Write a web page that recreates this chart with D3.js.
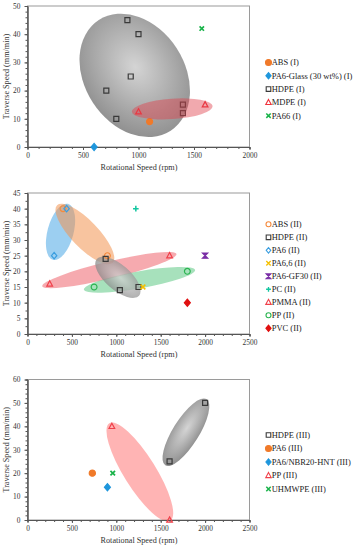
<!DOCTYPE html>
<html>
<head>
<meta charset="utf-8">
<script src="https://cdn.jsdelivr.net/npm/d3@7"></script>
<style>
  body { margin: 0; background: #fff; }
</style>
</head>
<body>
<script>
// Data (rpm, mm/min)
// Panel (I)
var absI      = [[1100, 9]];
var pa6GlassI = [[600, 0]];
var hdpeI     = [[900, 45], [1000, 40], [930, 25], [710, 20], [800, 10], [1400, 15], [1400, 12]];
var mdpeI     = [[1000, 12.5], [1600, 15]];
var pa66I     = [[1570, 42]];

// Panel (II)
var absII     = [[400, 40], [900, 25]];
var hdpeII    = [[880, 24], [1040, 14], [1250, 15]];
var pa6II     = [[440, 40], [300, 25]];
var pa66II    = [[1300, 15]];
var pa6gf30II = [[2000, 25]];
var pcII      = [[1220, 40]];
var pmmaII    = [[250, 16], [1600, 25]];
var ppII      = [[750, 15], [1800, 20]];
var pvcII     = [[1800, 10]];

// Panel (III)
var hdpeIII   = [[1600, 25], [2000, 50]];
var pa6III    = [[730, 20]];
var pa6nbrIII = [[900, 14]];
var ppIII     = [[950, 40], [1600, 0]];
var uhmwIII   = [[960, 20]];

// Grouping ellipses: centre in data units
var clustersI   = [[966, 25.4], [1304, 13.5]];
var clustersII  = [[372, 32.6], [646, 31.9], [922, 20.4], [1261, 17.3], [1018, 18.1]];
var clustersIII = [[1265, 20.5], [1784, 37.5]];

var W = 356, H = 550;
var plotLeft = 27.5, plotRight = 249.5;
var font = "'Liberation Serif', 'Times New Roman', serif";

var svg = d3.select("body").append("svg")
    .attr("width", W).attr("height", H)
    .style("font-family", font);

var grad = svg.append("defs").append("radialGradient")
    .attr("id", "grayGrad").attr("cx", "55%").attr("cy", "45%").attr("r", "60%");
grad.append("stop").attr("offset", "0%").attr("stop-color", "#d2d2d2");
grad.append("stop").attr("offset", "100%").attr("stop-color", "#878787");

//Marker shapes, s = half size
function shape(type, s)
{
    switch (type) {
    case "square":   return "M" + (-s) + "," + (-s) + "h" + 2*s + "v" + 2*s + "h" + (-2*s) + "Z";
    case "triangle": return "M0," + (-s*1.15) + "L" + s*1.05 + "," + s*0.8 + "L" + (-s*1.05) + "," + s*0.8 + "Z";
    case "diamond":  return "M0," + (-s*1.2) + "L" + s + ",0L0," + s*1.2 + "L" + (-s) + ",0Z";
    case "x":        return "M" + (-s) + "," + (-s) + "L" + s + "," + s + "M" + s + "," + (-s) + "L" + (-s) + "," + s;
    case "plus":     return "M" + (-s) + ",0H" + s + "M0," + (-s) + "V" + s;
    case "hourglass":return "M" + (-s) + "," + (-s) + "H" + s + "L" + (-s) + "," + s + "H" + s + "Z";
    default:         return "M" + s + ",0A" + s + "," + s + " 0 1,1 " + (-s) + ",0A" + s + "," + s + " 0 1,1 " + s + ",0Z";
    }
}

function marker(g, type, filled, color, s, sw)
{
    return g.append("path")
        .attr("d", shape(type, s))
        .attr("fill", filled ? color : "none")
        .attr("stroke", color)
        .attr("stroke-width", sw)
        .attr("stroke-linejoin", "miter");
}

var panels = [
  { top: 6, bottom: 147, xMax: 2000, yMax: 50, yStep: 10, yMinor: 2,
    legendY: 62.5, legendStep: 13.3,
    series: [
      { name: "ABS (I)", data: absI, type: "circle", filled: true, color: "#f07a2a", s: 3, ls: 3 },
      { name: "PA6-Glass (30 wt%) (I)", data: pa6GlassI, type: "diamond", filled: true, color: "#1e96dc", s: 3, ls: 2.6 },
      { name: "HDPE (I)", data: hdpeI, type: "square", filled: false, color: "#3a3a3a", s: 2.5, ls: 2.3 },
      { name: "MDPE (I)", data: mdpeI, type: "triangle", filled: false, color: "#f0323c", s: 2.7, ls: 2.6 },
      { name: "PA66 (I)", data: pa66I, type: "x", filled: false, color: "#19b34a", s: 2.2, ls: 2.2, sw: 1.7 }
    ],
    ellipses: [
      { c: clustersI[0], rx: 50, ry: 66, rot: -33, fill: "url(#grayGrad)", op: 0.95, over: false },
      { c: clustersI[1], rx: 40.5, ry: 10.2, rot: -4, fill: "#e0404c", op: 0.45, over: true }
    ] },
  { top: 193, bottom: 334, xMax: 2500, yMax: 45, yStep: 5, yMinor: 2.5,
    legendY: 224.3, legendStep: 13,
    series: [
      { name: "ABS (II)", data: absII, type: "circle", filled: false, color: "#f58a3c", s: 2.9, ls: 2.5 },
      { name: "HDPE (II)", data: hdpeII, type: "square", filled: false, color: "#3a3a3a", s: 2.5, ls: 2.3 },
      { name: "PA6 (II)", data: pa6II, type: "diamond", filled: false, color: "#3a9ee0", s: 2.7, ls: 2.3 },
      { name: "PA6,6 (II)", data: pa66II, type: "x", filled: false, color: "#f5c000", s: 2.4, ls: 2.2, sw: 1.5 },
      { name: "PA6-GF30 (II)", data: pa6gf30II, type: "hourglass", filled: true, color: "#7a2ea6", s: 2.6, ls: 2.4 },
      { name: "PC (II)", data: pcII, type: "plus", filled: false, color: "#12c6a0", s: 2.8, ls: 2.4, sw: 1.5 },
      { name: "PMMA (II)", data: pmmaII, type: "triangle", filled: false, color: "#f0404a", s: 2.7, ls: 2.6 },
      { name: "PP (II)", data: ppII, type: "circle", filled: false, color: "#2ab450", s: 2.9, ls: 2.5 },
      { name: "PVC (II)", data: pvcII, type: "diamond", filled: true, color: "#e01010", s: 3, ls: 2.6 }
    ],
    ellipses: [
      { c: clustersII[0], rx: 13, ry: 29, rot: 15, fill: "#4aa8e6", op: 0.55, over: false },
      { c: clustersII[1], rx: 40, ry: 13.5, rot: 46, fill: "#f29450", op: 0.55, over: false },
      { c: clustersII[2], rx: 69, ry: 8.5, rot: -13.5, fill: "#ee5560", op: 0.5, over: false },
      { c: clustersII[3], rx: 56.5, ry: 8.5, rot: -10, fill: "#3cbd6a", op: 0.45, over: false },
      { c: clustersII[4], rx: 28, ry: 12.5, rot: 41, fill: "url(#grayGrad)", op: 0.75, over: false }
    ] },
  { top: 379.5, bottom: 520, xMax: 2500, yMax: 60, yStep: 10, yMinor: 2,
    legendY: 435, legendStep: 13.5,
    series: [
      { name: "HDPE (III)", data: hdpeIII, type: "square", filled: false, color: "#3a3a3a", s: 2.5, ls: 2.3 },
      { name: "PA6 (III)", data: pa6III, type: "circle", filled: true, color: "#f07a2a", s: 3.1, ls: 3 },
      { name: "PA6/NBR20-HNT (III)", data: pa6nbrIII, type: "diamond", filled: true, color: "#1e96dc", s: 3, ls: 2.6 },
      { name: "PP (III)", data: ppIII, type: "triangle", filled: false, color: "#f0404a", s: 2.7, ls: 2.6 },
      { name: "UHMWPE (III)", data: uhmwIII, type: "x", filled: false, color: "#19b34a", s: 2.3, ls: 2.2, sw: 1.7 }
    ],
    ellipses: [
      { c: clustersIII[0], rx: 57.5, ry: 16, rot: 58, fill: "#ff6a6a", op: 0.5, over: false },
      { c: clustersIII[1], rx: 39, ry: 13, rot: -58, fill: "url(#grayGrad)", op: 0.95, over: false }
    ] }
];

panels.forEach(function(p)
{
    var x = d3.scaleLinear().domain([0, p.xMax]).range([plotLeft, plotRight]);
    var y = d3.scaleLinear().domain([0, p.yMax]).range([p.bottom, p.top]);
    var g = svg.append("g");

    //Frame
    g.append("rect")
        .attr("x", plotLeft).attr("y", p.top)
        .attr("width", plotRight - plotLeft).attr("height", p.bottom - p.top)
        .attr("fill", "none").attr("stroke", "#9a9a9a").attr("stroke-width", 1);

    function drawEllipses(over)
    {
        p.ellipses.filter(function(e) { return e.over === over; }).forEach(function(e) {
            g.append("ellipse")
                .attr("transform", "translate(" + x(e.c[0]) + "," + y(e.c[1]) + ") rotate(" + e.rot + ")")
                .attr("rx", e.rx).attr("ry", e.ry)
                .attr("fill", e.fill).attr("fill-opacity", e.op);
        });
    }
    drawEllipses(false);

    //Minor ticks
    var xMinor = d3.range(0, p.xMax + 1, 100);
    var yMinor = d3.range(0, p.yMax + 0.01, p.yMinor);
    g.append("g").attr("transform", "translate(0," + p.bottom + ")")
        .call(d3.axisBottom(x).tickValues(xMinor).tickSize(2).tickFormat(""))
        .call(function(a) { a.selectAll("line,path").attr("stroke", "#555"); });
    g.append("g").attr("transform", "translate(" + plotLeft + ",0)")
        .call(d3.axisLeft(y).tickValues(yMinor).tickSize(2).tickFormat(""))
        .call(function(a) { a.selectAll("line,path").attr("stroke", "#555"); });

    //Major axes
    var xa = g.append("g").attr("transform", "translate(0," + p.bottom + ")")
        .call(d3.axisBottom(x).tickValues(d3.range(0, p.xMax + 1, 500))
              .tickFormat(d3.format("d")).tickSize(3).tickPadding(3).tickSizeOuter(0));
    var ya = g.append("g").attr("transform", "translate(" + plotLeft + ",0)")
        .call(d3.axisLeft(y).tickValues(d3.range(0, p.yMax + 0.01, p.yStep))
              .tickFormat(d3.format("d")).tickSize(3).tickPadding(4).tickSizeOuter(0));
    [xa, ya].forEach(function(a) {
        a.selectAll("line,path").attr("stroke", "#555");
        a.selectAll("text").attr("fill", "#333").style("font-family", font).style("font-size", "7.4px");
    });

    //Axis titles
    g.append("text")
        .attr("x", (plotLeft + plotRight) / 2 + 0.5).attr("y", p.bottom + 23)
        .attr("text-anchor", "middle").attr("fill", "#333")
        .style("font-size", "8.2px")
        .text("Rotational Speed (rpm)");
    g.append("text")
        .attr("transform", "translate(9," + (p.top + p.bottom) / 2 + ") rotate(-90)")
        .attr("text-anchor", "middle").attr("fill", "#333")
        .style("font-size", "8.2px")
        .text("Traverse Speed (mm/min)");

    //Points
    p.series.forEach(function(s) {
        s.data.forEach(function(d) {
            marker(g, s.type, s.filled, s.color, s.s, s.sw || 1.2)
                .attr("transform", "translate(" + x(d[0]) + "," + y(d[1]) + ")");
        });
    });

    drawEllipses(true);

    //Legend
    p.series.forEach(function(s, i) {
        var ly = p.legendY + i * p.legendStep;
        marker(g, s.type, s.filled, s.color, s.ls, s.sw ? s.sw * 0.9 : 1.1)
            .attr("transform", "translate(268.5," + ly + ")");
        g.append("text")
            .attr("x", 271.7).attr("y", ly).attr("dy", "0.33em")
            .attr("fill", "#222")
            .style("font-size", "8.5px")
            .text(s.name);
    });
});
</script>
</body>
</html>
